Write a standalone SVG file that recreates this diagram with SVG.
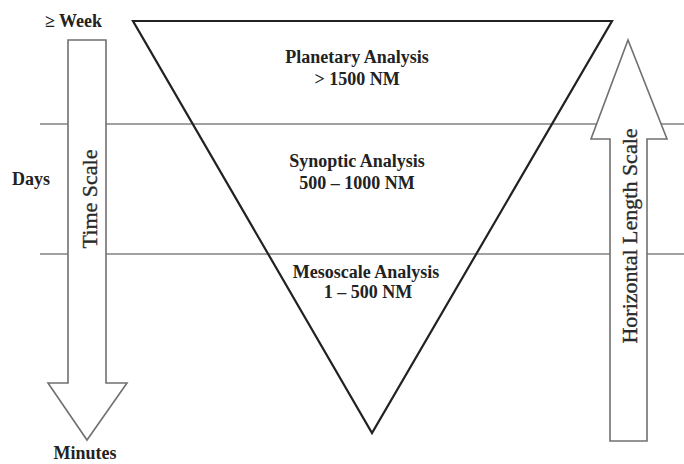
<svg xmlns="http://www.w3.org/2000/svg" width="684" height="464" viewBox="0 0 684 464">
<style>
.hl{stroke:#444;stroke-width:1.2;fill:none}
.tri{stroke:#222;stroke-width:2.2;fill:none;stroke-linejoin:miter}
.arr{stroke:#707070;stroke-width:1.6;fill:#fff}
.lbl{font-family:"Liberation Serif","Times New Roman",serif;font-weight:bold;font-size:18px;fill:#222}
.ax{font-family:"Liberation Serif","Times New Roman",serif;font-size:22px;fill:#2a2a2a;stroke:#2a2a2a;stroke-width:0.35}
</style>
<rect width="684" height="464" fill="#fff"/>
<g id="connectors">
<line class="hl" x1="40" y1="124" x2="684" y2="124"/>
<line class="hl" x1="40" y1="254" x2="684" y2="254"/>
</g>
<g id="triangle">
<polygon class="tri" points="133,21 612,21 372,433"/>
</g>
<g id="time-arrow">
<polygon class="arr" points="68,40 106,40 106,383 127,383 87,440 48,383 68,383"/>
<text class="ax" transform="translate(97,199) rotate(-90)" text-anchor="middle">Time Scale</text>
</g>
<g id="length-arrow">
<polygon class="arr" points="610,441 647,441 647,139 667,139 628,40 591,139 610,139"/>
<text class="ax" transform="translate(637,236) rotate(-90)" text-anchor="middle">Horizontal Length Scale</text>
</g>
<g id="planetary">
<text class="lbl" x="357" y="63" text-anchor="middle">Planetary Analysis</text>
<text class="lbl" x="357" y="85" text-anchor="middle">&gt; 1500 NM</text>
</g>
<g id="synoptic">
<text class="lbl" x="357" y="167" text-anchor="middle">Synoptic Analysis</text>
<text class="lbl" x="357" y="189" text-anchor="middle">500 – 1000 NM</text>
</g>
<g id="mesoscale">
<text class="lbl" x="366" y="278" text-anchor="middle">Mesoscale Analysis</text>
<text class="lbl" x="368" y="298" text-anchor="middle">1 – 500 NM</text>
</g>
<g id="labels">
<text class="lbl" x="45" y="27" font-size="19">≥ Week</text>
<text class="lbl" x="12" y="185">Days</text>
<text class="lbl" x="85" y="459" text-anchor="middle">Minutes</text>
</g>
</svg>
